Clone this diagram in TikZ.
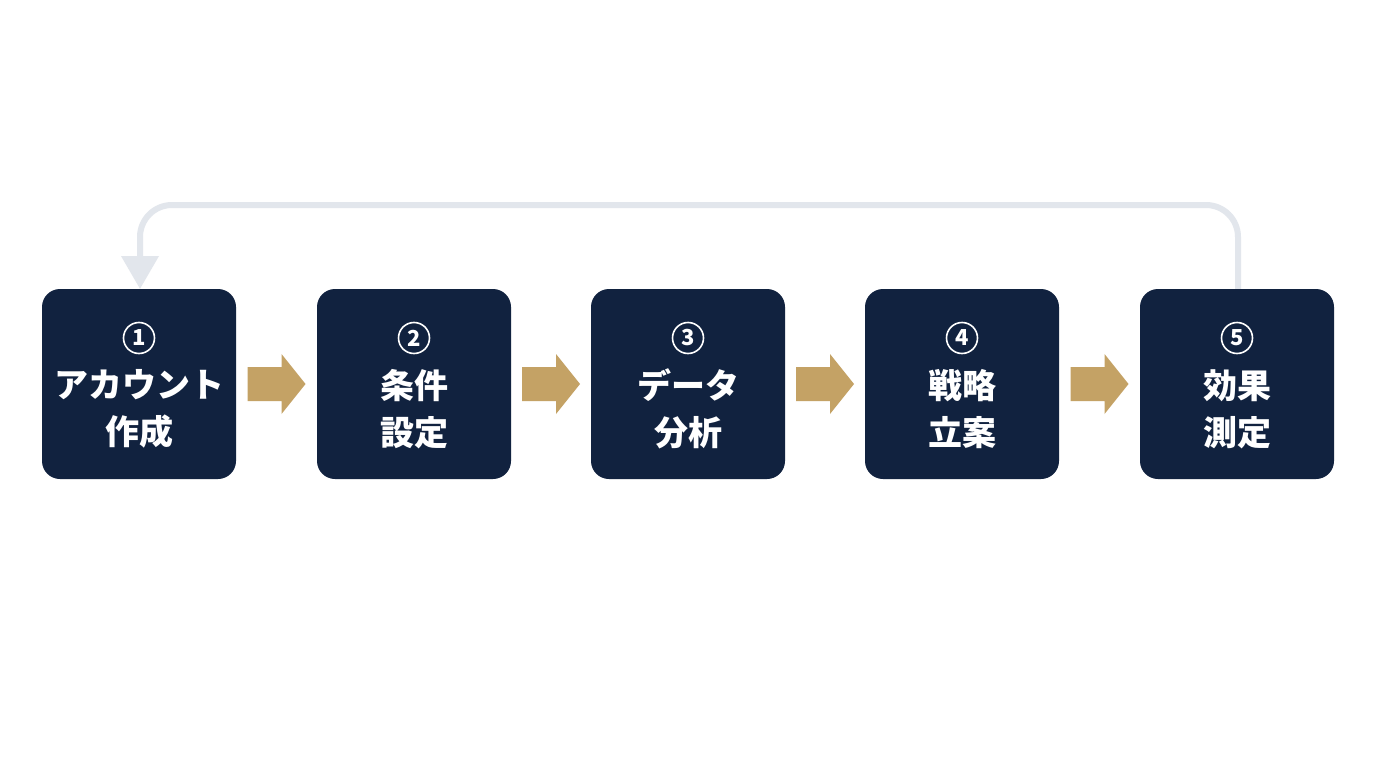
\documentclass[tikz,border=0pt]{standalone}
\usepackage{fontspec}
\usetikzlibrary{calc}
\newfontfamily\jp{Noto Sans CJK JP}
\definecolor{navy}{HTML}{11223F}
\definecolor{gold}{HTML}{C4A265}
\definecolor{loopgray}{HTML}{E2E6EC}
\tikzset{
  stepbox/.style={fill=navy, rounded corners=18pt, minimum width=194pt, minimum height=190pt, inner sep=0pt},
  lbl/.style={text=white, font=\jp\bfseries\fontsize{34}{47}\selectfont, align=center},
  num/.style={circle, draw=white, line width=1.6pt, minimum size=31pt, inner sep=0pt, text=white, font=\jp\bfseries\fontsize{22}{22}\selectfont},
  goldarrow/.style={fill=gold}
}
\begin{document}
\begin{tikzpicture}[x=1pt,y=-1pt]
\useasboundingbox (0,0) rectangle (1376,768);
\fill[white] (0,0) rectangle (1376,768);
\foreach \i/\x/\a/\b in {1/139/アカウント/作成, 2/414/条件/設定, 3/688/データ/分析, 4/962/戦略/立案, 5/1237/効果/測定}{
  \node[stepbox] (b\i) at (\x,384) {};
  \node[lbl] (t\i) at (\x,409) {\a\\\b};
  \node[num] (n\i) at (\x,338) {\i};
}
% gold arrows
\foreach \i/\j in {1/2,2/3,3/4,4/5}{
  \path (b\i.east) coordinate (s\i) (b\j.west) coordinate (e\i);
  \fill[goldarrow] ($(s\i)!0.5!(e\i)+(-29,-17)$) -- ++(34,0) -- ++(0,-13) -- ++(24,30) -- ++(-24,30) -- ++(0,-13) -- ++(-34,0) -- cycle;
}
% loop
\coordinate (topR) at (1238,205);
\coordinate (topL) at (140,205);
\draw[loopgray, line width=6pt, rounded corners=32pt] (b5.north -| topR) -- (topR) -- (topL) -- (140,258);
\fill[loopgray] (121,256) -- (159,256) -- (b1.north -| topL) -- cycle;
\end{tikzpicture}
\end{document}
